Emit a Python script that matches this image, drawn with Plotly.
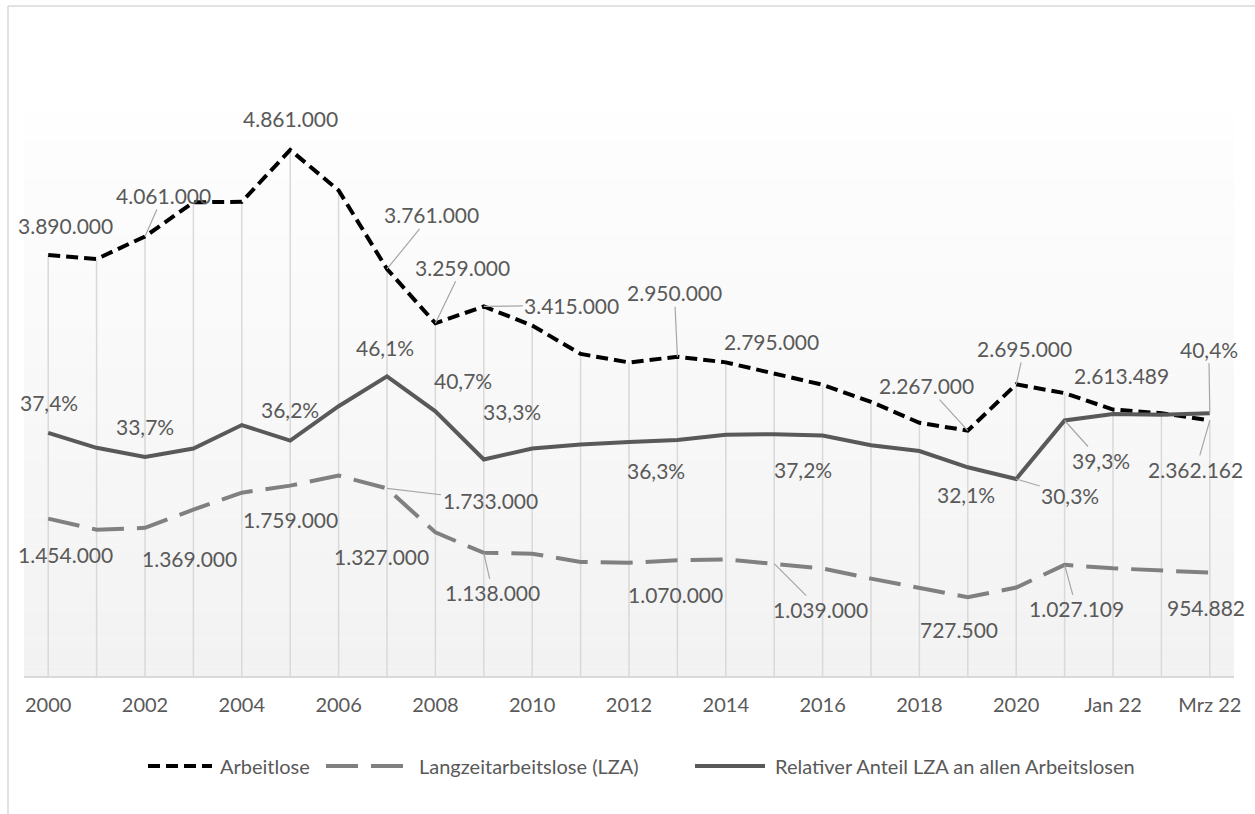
import plotly.graph_objects as go

# ---- data -------------------------------------------------------------
categories = [str(y) for y in range(2000, 2022)] + ["Jan 22", "Feb 22", "Mrz 22"]

arbeitslose = [3890000, 3853000, 4061000, 4377000, 4381000, 4861000, 4487000,
               3761000, 3259000, 3415000, 3238000, 2976000, 2897000, 2950000,
               2898000, 2795000, 2691000, 2533000, 2340000, 2267000, 2695000,
               2613489, 2462000, 2428000, 2362162]

langzeitarbeitslose = [1454000, 1352000, 1369000, 1537000, 1694000, 1759000,
                       1852000, 1733000, 1327000, 1138000, 1130000, 1054000,
                       1046000, 1070000, 1077000, 1039000, 993000, 900000,
                       813000, 727500, 817000, 1027109, 995000, 975000, 954882]

anteil_lza = [37.4, 35.1, 33.7, 35.0, 38.6, 36.2, 41.5, 46.1, 40.7, 33.3, 35.0,
              35.6, 36.0, 36.3, 37.1, 37.2, 37.0, 35.5, 34.6, 32.1, 30.3, 39.3,
              40.3, 40.2, 40.4]

tick_labels = categories[::2]

# ---- layout constants ---------------------------------------------------
FONT = "Lato"
TEXT = "#595959"
FIG_W, FIG_H = 1255, 814
M_L, M_R, M_T, M_B = 24, 21, 113, 138
PLOT_W = FIG_W - M_L - M_R
PLOT_H = FIG_H - M_T - M_B


def px_x(x):
    return (x - M_L) / PLOT_W


def px_y(y):
    return (M_T + PLOT_H - y) / PLOT_H


fig = go.Figure()

# drop lines from the Arbeitslose points to the axis
drop_x, drop_y = [], []
for c, v in zip(categories, arbeitslose):
    drop_x += [c, c, None]
    drop_y += [0, v, None]
fig.add_trace(go.Scatter(x=drop_x, y=drop_y, mode="lines",
                         line=dict(color="#d9d9d9", width=1.5),
                         hoverinfo="skip", showlegend=False))

fig.add_trace(go.Scatter(x=categories, y=langzeitarbeitslose, mode="lines",
                         name="Langzeitarbeitslose (LZA)",
                         line=dict(color="#808080", width=4, dash="32px,13px")))
fig.add_trace(go.Scatter(x=categories, y=arbeitslose, mode="lines",
                         name="Arbeitlose",
                         line=dict(color="#000000", width=4, dash="12px,6px")))
fig.add_trace(go.Scatter(x=categories, y=anteil_lza, mode="lines",
                         name="Relativer Anteil LZA an allen Arbeitslosen",
                         yaxis="y2",
                         line=dict(color="#595959", width=4)))


def fmt_num(v):
    return f"{v:,}".replace(",", ".")


def fmt_pct(v):
    return f"{v:.1f}%".replace(".", ",")


# label placement: (index, dx, dy, leader line)
al_labels = [(0, 17, -29, False), (2, 18, -41, True), (5, 0, -31, False),
             (7, 44, -54, True), (8, 27, -56, True), (9, 88, -1, True),
             (13, -3, -64, True), (15, -3, -32, False), (19, -41, -45, True),
             (20, 8, -36, True), (21, 57, -18, False), (24, -14, 49, True)]
pct_labels = [(0, 1, -30, False), (2, 0, -30, False), (5, 0, -31, False),
              (7, -2, -29, False), (8, 28, -31, False), (9, 28, -48, False),
              (13, -21, 30, False), (15, 29, 35, False), (19, -2, 27, False),
              (20, 54, 16, True), (21, 36, 40, True), (24, -1, -64, True)]
lza_labels = [(0, 17, 36, False), (2, 44, 31, False), (5, 0, 34, False),
              (7, 103, 12, True), (8, -54, 24, False), (9, 9, 40, True),
              (13, -2, 34, False), (15, 46, 46, True), (19, -9, 32, False),
              (21, 12, 44, True), (24, -4, 35, False)]

label_font = dict(family=FONT, size=21, color=TEXT)
annotations = []


def add_labels(specs, values, fmt, yref):
    for i, dx, dy, leader in specs:
        # category axis: position by category index
        a = dict(x=i, y=values[i], xref="x", yref=yref,
                 text=fmt(values[i]), font=label_font)
        if leader:
            a.update(showarrow=True, ax=dx, ay=dy, arrowhead=0,
                     arrowwidth=1.2, arrowcolor="#a6a6a6", standoff=0)
        else:
            a.update(showarrow=False, xshift=dx, yshift=-dy)
        annotations.append(a)


add_labels(al_labels, arbeitslose, fmt_num, "y")
add_labels(lza_labels, langzeitarbeitslose, fmt_num, "y")
add_labels(pct_labels, anteil_lza, fmt_pct, "y2")

# ---- plot-area gradient and chart frame ---------------------------------
shapes = []
N = 60
for k in range(N):
    t = (k + 0.5) / N
    g = round(242 + (254 - 242) * t)
    shapes.append(dict(type="rect", xref="paper", yref="paper",
                       x0=0, x1=1, y0=k / N, y1=(k + 1) / N,
                       fillcolor=f"rgb({g},{g},{g})", line=dict(width=0),
                       layer="below"))

frame = dict(color="#d9d9d9", width=1.5)
shapes.append(dict(type="line", xref="paper", yref="paper",
                   x0=px_x(8), x1=px_x(8), y0=px_y(FIG_H), y1=px_y(6), line=frame))
shapes.append(dict(type="line", xref="paper", yref="paper",
                   x0=px_x(8), x1=px_x(FIG_W), y0=px_y(6), y1=px_y(6), line=frame))

# ---- legend -------------------------------------------------------------
LEG_Y = 766
legend_items = [
    ("Arbeitlose", 148, 212, 218, dict(color="#000000", width=4, dash="12px,6px")),
    ("Langzeitarbeitslose (LZA)", 326, 410, 417, dict(color="#808080", width=4, dash="32px,13px")),
    ("Relativer Anteil LZA an allen Arbeitslosen", 695, 765, 773, dict(color="#595959", width=4)),
]
for text, x0, x1, tx, line in legend_items:
    shapes.append(dict(type="line", xref="paper", yref="paper",
                       x0=px_x(x0), x1=px_x(x1), y0=px_y(LEG_Y), y1=px_y(LEG_Y),
                       line=line))
    annotations.append(dict(xref="paper", yref="paper", x=px_x(tx), y=px_y(LEG_Y),
                            xanchor="left", yanchor="middle", showarrow=False,
                            text=text, font=dict(family=FONT, size=20, color=TEXT)))

fig.update_layout(
    width=FIG_W, height=FIG_H,
    margin=dict(l=M_L, r=M_R, t=M_T, b=M_B),
    paper_bgcolor="white", plot_bgcolor="white",
    showlegend=False,
    xaxis=dict(type="category", categoryorder="array", categoryarray=categories,
               range=[-0.5, len(categories) - 0.5],
               tickvals=tick_labels, ticktext=tick_labels,
               showgrid=False, zeroline=False, ticks="",
               showline=True, linecolor="#d9d9d9", linewidth=2,
               ticklabelstandoff=10,
               tickfont=dict(family=FONT, size=20, color=TEXT)),
    yaxis=dict(range=[0, 5202000], visible=False),
    yaxis2=dict(range=[0, 86.6], overlaying="y", visible=False),
    shapes=shapes,
    annotations=annotations,
)

fig.write_html("out.html")
